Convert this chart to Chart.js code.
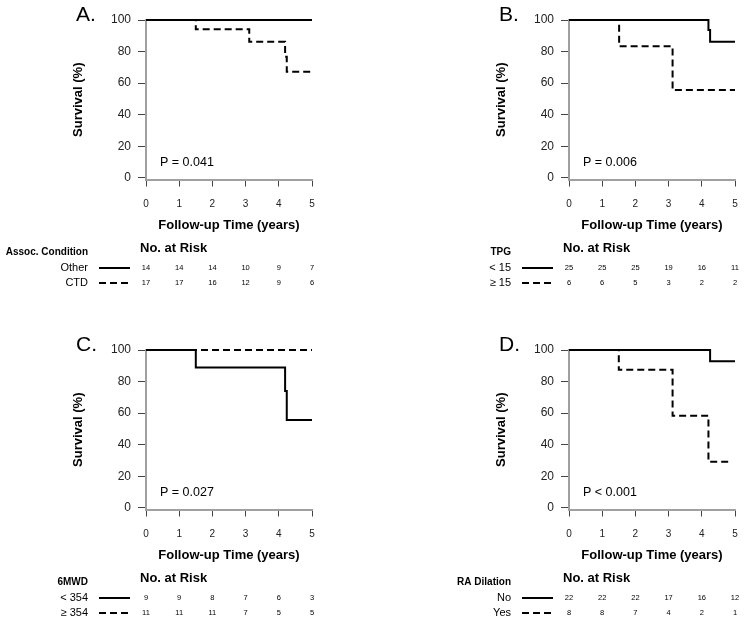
<!DOCTYPE html>
<html>
<head>
<meta charset="utf-8">
<script src="https://cdn.jsdelivr.net/npm/chart.js@4.4.1/dist/chart.umd.min.js"></script>
<style>
  body { margin: 0; width: 750px; height: 622px; overflow: hidden; background: #fff; position: relative; }
  canvas { position: absolute; }
</style>
</head>
<body>
<canvas id="chartA" width="423" height="330" style="left:0;top:0"></canvas>
<canvas id="chartB" width="327" height="330" style="left:423px;top:0"></canvas>
<canvas id="chartC" width="423" height="330" style="left:0;top:330px"></canvas>
<canvas id="chartD" width="327" height="330" style="left:423px;top:330px"></canvas>
<script>
const yearTicks = [0, 1, 2, 3, 4, 5];
const survTicks = [0, 20, 40, 60, 80, 100];

// A. Assoc. Condition
const otherTimes = [0, 5];
const otherSurv = [100, 100];
const ctdTimes = [0, 1.5, 3.11, 4.19, 4.24, 5];
const ctdSurv = [100, 94.1, 86.2, 76.7, 67.2, 67.2];
const otherAtRisk = [14, 14, 14, 10, 9, 7];
const ctdAtRisk = [17, 17, 16, 12, 9, 6];

// B. TPG
const tpgLowTimes = [0, 4.2, 4.25, 5];
const tpgLowSurv = [100, 93.7, 86.2, 86.2];
const tpgHighTimes = [0, 1.51, 3.12, 5];
const tpgHighSurv = [100, 83.3, 55.6, 55.6];
const tpgLowAtRisk = [25, 25, 25, 19, 16, 11];
const tpgHighAtRisk = [6, 6, 5, 3, 2, 2];

// C. 6MWD
const walkLowTimes = [0, 1.5, 4.19, 4.24, 5];
const walkLowSurv = [100, 88.9, 74.1, 55.6, 55.6];
const walkHighTimes = [0, 5];
const walkHighSurv = [100, 100];
const walkLowAtRisk = [9, 9, 8, 7, 6, 3];
const walkHighAtRisk = [11, 11, 11, 7, 5, 5];

// D. RA Dilation
const raNoTimes = [0, 4.25, 5];
const raNoSurv = [100, 92.9, 92.9];
const raYesTimes = [0, 1.5, 3.12, 4.2, 4.9];
const raYesSurv = [100, 87.5, 58.3, 29.2, 29.2];
const raNoAtRisk = [22, 22, 22, 17, 16, 12];
const raYesAtRisk = [8, 8, 7, 4, 2, 1];

const FONT = '"Liberation Sans", Arial, Helvetica, sans-serif';
const DASH = [7, 4];

function toPoints(times, surv) {
    return times.map((t, i) => ({ x: t, y: surv[i] }));
}

// panel letter, p value and the number-at-risk table under the axis
const riskTablePlugin = {
    id: 'riskTable',
    afterDraw(chart, args, opts) {
        const ctx = chart.ctx;
        const xScale = chart.scales.x;
        ctx.save();
        ctx.fillStyle = '#000';
        ctx.textBaseline = 'middle';

        ctx.textAlign = 'left';
        ctx.font = '21px ' + FONT;
        ctx.fillText(opts.letter, 76, 15);

        ctx.font = '12.5px ' + FONT;
        ctx.fillText(opts.pValue, 160, 163);

        ctx.font = 'bold 13px ' + FONT;
        ctx.fillText('No. at Risk', 140, 248);

        ctx.textAlign = 'right';
        ctx.font = 'bold 10px ' + FONT;
        ctx.fillText(opts.group, 88, 252);

        opts.rows.forEach((row, i) => {
            const y = 268 + i * 15;
            ctx.textAlign = 'right';
            ctx.font = '11px ' + FONT;
            ctx.fillText(row.label, 88, y);

            ctx.beginPath();
            ctx.strokeStyle = '#000';
            ctx.lineWidth = 2;
            ctx.setLineDash(row.dashed ? DASH : []);
            ctx.moveTo(99, y);
            ctx.lineTo(130, y);
            ctx.stroke();
            ctx.setLineDash([]);

            ctx.textAlign = 'center';
            ctx.font = '7.5px ' + FONT;
            row.counts.forEach((n, j) => {
                ctx.fillText(String(n), xScale.getPixelForValue(yearTicks[j]), y);
            });
        });
        ctx.restore();
    }
};

function makePanel(id, letter, pValue, group, solid, dashed) {
    const canvas = document.getElementById(id);
    const w = canvas.width;
    const h = canvas.height;
    new Chart(canvas, {
        type: 'line',
        data: {
            datasets: [
                {
                    data: toPoints(solid.times, solid.surv),
                    borderColor: '#000',
                    borderWidth: 2,
                    stepped: 'before',
                    pointRadius: 0,
                    clip: false
                },
                {
                    data: toPoints(dashed.times, dashed.surv),
                    borderColor: '#000',
                    borderWidth: 2,
                    borderDash: DASH,
                    stepped: 'before',
                    pointRadius: 0,
                    clip: false
                }
            ]
        },
        options: {
            responsive: false,
            animation: false,
            events: [],
            layout: { padding: { top: 20, left: 0, right: w - 312, bottom: 0 } },
            plugins: {
                legend: { display: false },
                tooltip: { enabled: false },
                riskTable: {
                    letter: letter,
                    pValue: pValue,
                    group: group,
                    rows: [
                        { label: solid.label, counts: solid.atRisk, dashed: false },
                        { label: dashed.label, counts: dashed.atRisk, dashed: true }
                    ]
                }
            },
            scales: {
                x: {
                    type: 'linear',
                    min: 0,
                    max: 5,
                    afterBuildTicks: s => { s.ticks = yearTicks.map(v => ({ value: v })); },
                    afterFit: s => { s.height = h - 179.5; },
                    ticks: { font: { size: 10, family: FONT }, color: '#222', padding: 12, maxRotation: 0 },
                    grid: { drawOnChartArea: false, drawTicks: true, tickLength: 7, tickColor: '#444', lineWidth: 1 },
                    border: { display: true, color: '#a0a0a0', width: 2 },
                    title: {
                        display: true,
                        text: 'Follow-up Time (years)',
                        color: '#000',
                        font: { size: 13, weight: 'bold', family: FONT },
                        padding: { top: 0, bottom: 97 }
                    }
                },
                y: {
                    type: 'linear',
                    min: -1,
                    max: 100,
                    afterBuildTicks: s => { s.ticks = survTicks.map(v => ({ value: v })); },
                    afterFit: s => { s.width = 146; },
                    ticks: { font: { size: 12, family: FONT }, color: '#222', padding: 7 },
                    grid: { drawOnChartArea: false, drawTicks: true, tickLength: 8, tickColor: '#444', lineWidth: 1 },
                    border: { display: true, color: '#a0a0a0', width: 2 },
                    title: {
                        display: true,
                        text: 'Survival (%)',
                        color: '#000',
                        font: { size: 13, weight: 'bold', family: FONT },
                        padding: { top: 71, bottom: 0 }
                    }
                }
            }
        },
        plugins: [riskTablePlugin]
    });
}

makePanel('chartA', 'A.', 'P = 0.041', 'Assoc. Condition',
    { label: 'Other', times: otherTimes, surv: otherSurv, atRisk: otherAtRisk },
    { label: 'CTD', times: ctdTimes, surv: ctdSurv, atRisk: ctdAtRisk });

makePanel('chartB', 'B.', 'P = 0.006', 'TPG',
    { label: '< 15', times: tpgLowTimes, surv: tpgLowSurv, atRisk: tpgLowAtRisk },
    { label: '≥ 15', times: tpgHighTimes, surv: tpgHighSurv, atRisk: tpgHighAtRisk });

makePanel('chartC', 'C.', 'P = 0.027', '6MWD',
    { label: '< 354', times: walkLowTimes, surv: walkLowSurv, atRisk: walkLowAtRisk },
    { label: '≥ 354', times: walkHighTimes, surv: walkHighSurv, atRisk: walkHighAtRisk });

makePanel('chartD', 'D.', 'P < 0.001', 'RA Dilation',
    { label: 'No', times: raNoTimes, surv: raNoSurv, atRisk: raNoAtRisk },
    { label: 'Yes', times: raYesTimes, surv: raYesSurv, atRisk: raYesAtRisk });
</script>
</body>
</html>
